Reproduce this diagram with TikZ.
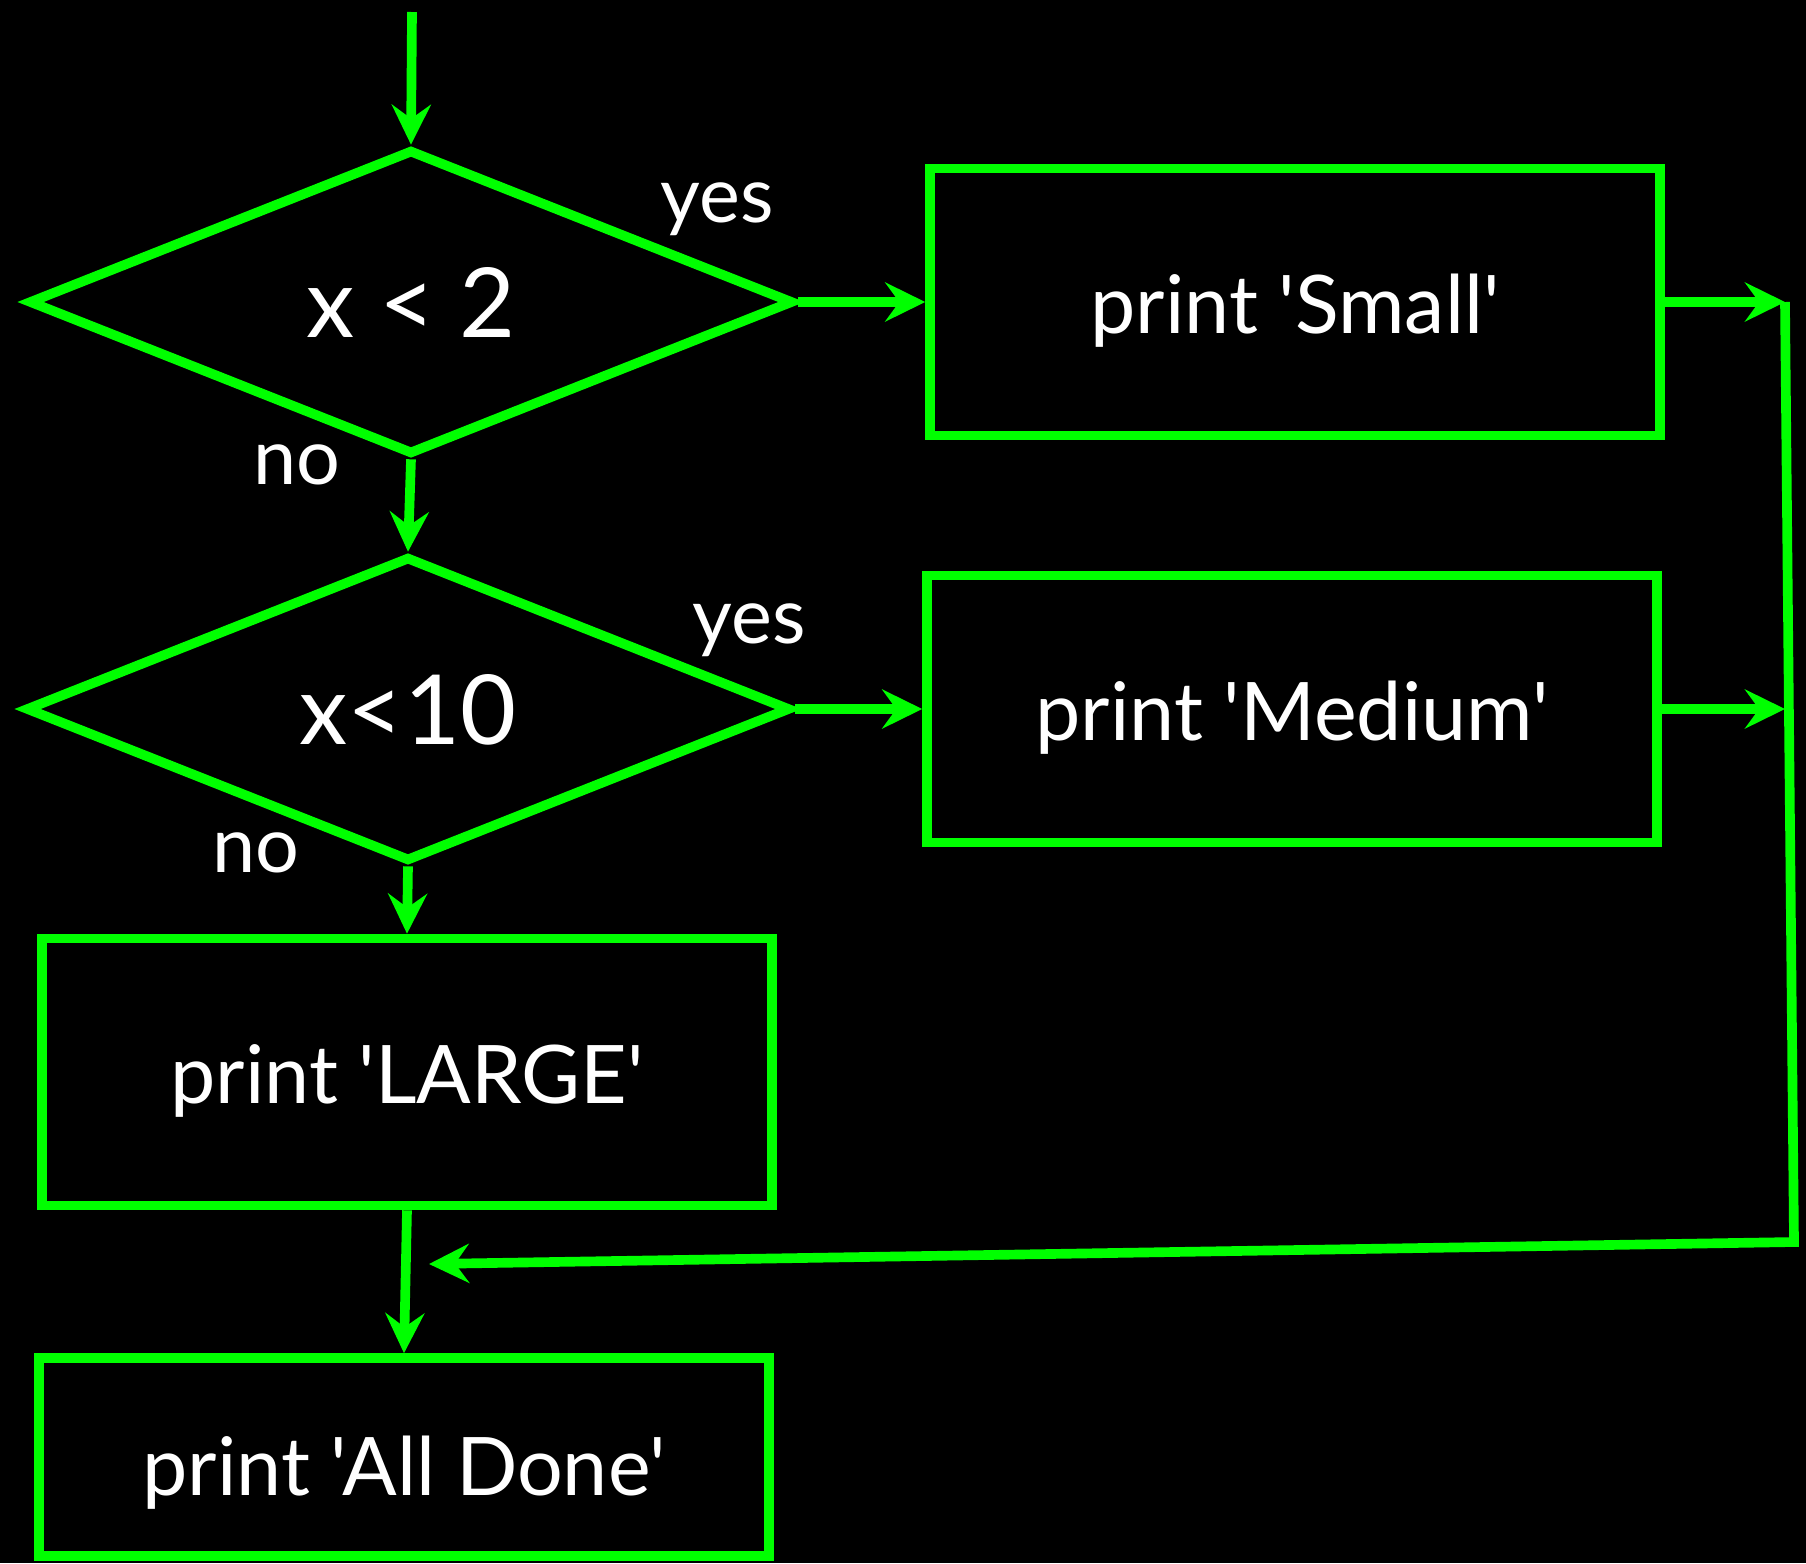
\documentclass[tikz,border=0pt]{standalone}
\usepackage{fontspec}
\setmainfont{Lato}
% plain family, so that ' stays a straight quote
\newfontfamily\flowfont{Lato}
\usetikzlibrary{shapes.geometric,arrows.meta}
\definecolor{flowgreen}{RGB}{0,255,0}
\begin{document}
\begin{tikzpicture}[x=0.02cm,y=-0.02cm,
% common options for the boxes:
box/.style = {draw=flowgreen, line width=5.5pt, minimum width=14.6cm,
            minimum height=5.34cm, inner sep=0, text=white,
            text height=1.6cm, text depth=0.35cm,
            font=\flowfont\fontsize{46}{52}\selectfont},
% common options for the tests:
test/.style = {diamond, aspect=2.5, draw=flowgreen, line width=5.5pt,
            minimum width=15.3cm, minimum height=6.1cm, inner sep=0,
            text=white, text height=1.75cm, text depth=0.35cm,
            font=\flowfont\fontsize{55}{62}\selectfont},
% common options for the yes/no labels:
answer/.style = {text=white, inner sep=0,
            font=\flowfont\fontsize{44}{50}\selectfont},
flow/.style = {draw=flowgreen, line width=5.5pt, line join=miter,
            -{Stealth[length=0.8cm,width=0.78cm,inset=0.28cm]}}]
\path[use as bounding box, fill=black] (0,0) rectangle (1806,1563);
\node[test] (T1) at (411,302) {x < 2};
\node[test] (T2) at (408,709) {x<10};
\node[box] (S) at (1295,302) {print 'Small'};
\node[box] (M) at (1292,709) {print 'Medium'};
\node[box] (L) at (407,1072) {print 'LARGE'};
\node[box,minimum height=3.96cm,text height=1.9cm] (D) at (404,1457) {print 'All Done'};
\node[answer] (Y1) at (717,209) {yes};
\node[answer] (Y2) at (749,630) {yes};
\node[answer] (N1) at (297,465) {no};
\node[answer] (N2) at (256,853) {no};
\coordinate (start) at (412,12);
\coordinate (R1) at (1785,302);
\coordinate (R2) at (1785,709);
\coordinate (R3) at (1794,1242);
\coordinate (J) at (429,1264);
\draw[flow] (start) -- (T1.north);
\draw[flow] (T1.east) -- (S.west);
\draw[flow] (T1.south) -- (T2.north);
\draw[flow] (T2.east) -- (M.west);
\draw[flow] (T2.south) -- (L.north);
\draw[flow] (L.south) -- (D.north);
\draw[flow] (S.east) -- (R1);
\draw[flow] (M.east) -- (R2);
\draw[flow] (R1) -- (R3) -- (J);
\end{tikzpicture}
\end{document}
